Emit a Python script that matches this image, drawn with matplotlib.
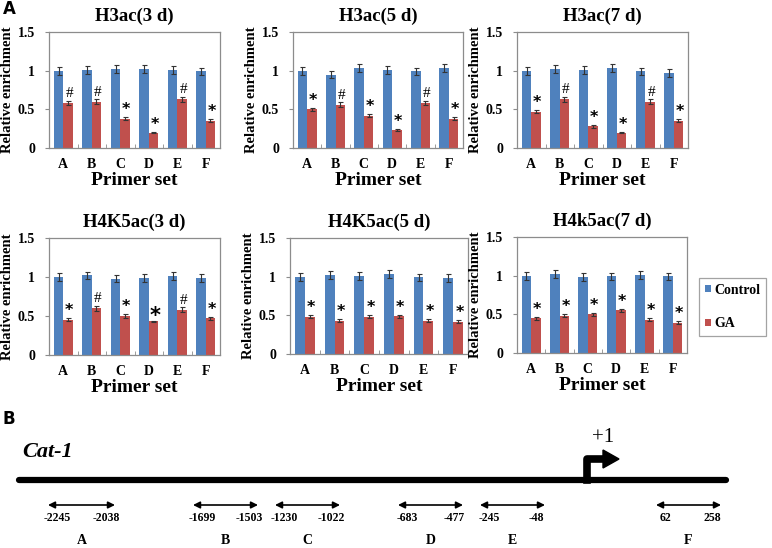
import numpy as np
import matplotlib
matplotlib.use('Agg')
import matplotlib.pyplot as plt
from matplotlib.patches import Patch, Polygon

primers = ['A', 'B', 'C', 'D', 'E', 'F']

titles = ['H3ac(3 d)', 'H3ac(5 d)', 'H3ac(7 d)',
          'H4K5ac(3 d)', 'H4K5ac(5 d)', 'H4k5ac(7 d)']

control = [
    [1.00, 1.01, 1.02, 1.02, 1.01, 0.99],
    [1.00, 0.95, 1.03, 1.01, 0.99, 1.03],
    [1.00, 1.02, 1.01, 1.03, 0.99, 0.97],
    [1.00, 1.02, 0.98, 0.99, 1.01, 0.99],
    [1.00, 1.02, 1.01, 1.03, 0.99, 0.98],
    [1.00, 1.02, 0.98, 0.99, 1.01, 0.99],
]
control_err = [
    [0.05, 0.05, 0.05, 0.05, 0.05, 0.05],
    [0.05, 0.05, 0.05, 0.05, 0.05, 0.05],
    [0.05, 0.05, 0.05, 0.05, 0.05, 0.05],
    [0.05, 0.05, 0.05, 0.05, 0.05, 0.05],
    [0.05, 0.05, 0.05, 0.05, 0.05, 0.05],
    [0.05, 0.05, 0.05, 0.05, 0.05, 0.05],
]
ga = [
    [0.58, 0.60, 0.38, 0.20, 0.63, 0.35],
    [0.50, 0.56, 0.42, 0.23, 0.58, 0.38],
    [0.47, 0.63, 0.28, 0.20, 0.60, 0.35],
    [0.45, 0.60, 0.50, 0.43, 0.58, 0.47],
    [0.48, 0.43, 0.48, 0.49, 0.43, 0.42],
    [0.45, 0.48, 0.50, 0.55, 0.43, 0.39],
]
ga_err = [
    [0.03, 0.03, 0.02, 0.01, 0.03, 0.02],
    [0.02, 0.03, 0.02, 0.01, 0.03, 0.02],
    [0.02, 0.03, 0.02, 0.01, 0.03, 0.02],
    [0.02, 0.03, 0.02, 0.01, 0.03, 0.02],
    [0.02, 0.02, 0.02, 0.02, 0.02, 0.02],
    [0.02, 0.02, 0.02, 0.02, 0.02, 0.02],
]
marks = [
    ['#', '#', '*', '*', '#', '*'],
    ['*', '#', '*', '*', '#', '*'],
    ['*', '#', '*', '*', '#', '*'],
    ['*', '#', '*', '*', '#', '*'],
    ['*', '*', '*', '*', '*', '*'],
    ['*', '*', '*', '*', '*', '*'],
]

# part B: primer pairs (bp relative to +1)
primer_start = [-2245, -1699, -1230, -683, -245, 62]
primer_end = [-2038, -1503, -1022, -477, -48, 258]

W, H = 772, 548
BLUE = '#4F81BD'
RED = '#C0504D'
GRAY = '#8c8c8c'
serif = 'Liberation Serif'

fig = plt.figure(figsize=(W / 100, H / 100), dpi=100)


def px_axes(x0, y0, x1, y1):
    return fig.add_axes([x0 / W, 1 - y1 / H, (x1 - x0) / W, (y1 - y0) / H])


boxes = [(49, 32, 220, 148), (293, 32, 463, 148), (517, 32, 688, 148),
         (49, 238, 220, 355), (290, 238, 468, 354), (517, 237, 687, 353)]

x = np.arange(len(primers))
bw = 0.33
ekw = dict(ecolor='#333333', elinewidth=0.8, capsize=1.8, capthick=0.8)
for k, box in enumerate(boxes):
    ax = px_axes(*box)
    ax.bar(x - bw / 2, control[k], bw, color=BLUE, yerr=control_err[k], error_kw=ekw)
    ax.bar(x + bw / 2, ga[k], bw, color=RED, yerr=ga_err[k], error_kw=ekw)
    for i in range(len(primers)):
        m = marks[k][i]
        top = ga[k][i] + ga_err[k][i]
        if m == '*':
            big = (k == 3 and i == 3)
            ax.text(x[i] + bw / 2 + 0.05, top - (0.07 if big else 0.0), m,
                    ha='center', va='bottom', fontsize=15 if big else 11.5,
                    fontweight='bold', family='DejaVu Sans')
        else:
            ax.text(x[i] + bw / 2 + 0.05, top + 0.01, m, ha='center', va='bottom',
                    fontsize=11, family=serif)
    ax.set_xlim(-0.5, 5.5)
    ax.set_ylim(0, 1.5)
    ax.set_yticks([0, 0.5, 1, 1.5])
    ax.set_yticklabels(['0', '0.5', '1', '1.5'])
    ax.set_xticks(x)
    ax.set_xticklabels(primers)
    ax.set_xticks(np.arange(0.5, 5.5, 1), minor=True)
    ax.tick_params(axis='x', which='major', length=0, pad=7)
    ax.tick_params(axis='x', which='minor', length=3, direction='in', color=GRAY)
    ax.tick_params(axis='y', length=3, color=GRAY, pad=7)
    for lab in ax.get_xticklabels() + ax.get_yticklabels():
        lab.set_fontfamily(serif)
        lab.set_fontweight('bold')
        lab.set_fontsize(10)
    for s in ax.spines.values():
        s.set_color(GRAY)
        s.set_linewidth(0.9)
    ax.set_title(titles[k], fontsize=13.5, fontweight='bold', family=serif, pad=8)
    ax.set_xlabel('Primer set', fontsize=14, fontweight='bold', family=serif, labelpad=1)
    ax.set_ylabel('Relative enrichment', fontsize=10.5, fontweight='bold', family=serif,
                  labelpad=3)

handles = [Patch(facecolor=BLUE, label='Control'), Patch(facecolor=RED, label='GA')]
leg = fig.legend(handles=handles, loc='upper left',
                 bbox_to_anchor=(699 / W, 1 - 278 / H), frameon=True, fancybox=False,
                 handlelength=0.45, handleheight=0.45, handletextpad=0.25,
                 labelspacing=1.5, borderpad=0.4, borderaxespad=0,
                 prop=dict(family=serif, weight='bold', size=10))
leg.get_frame().set_edgecolor(GRAY)
leg.get_frame().set_linewidth(0.9)

fig.text(3 / W, 1 - 14 / H, 'A', fontsize=12, fontweight='bold', family='DejaVu Sans')
fig.text(3 / W, 1 - 424 / H, 'B', fontsize=12, fontweight='bold', family='DejaVu Sans')

# part B schematic, drawn in pixel coordinates
axb = fig.add_axes([0, 0, 1, 1], zorder=-1)
axb.set_xlim(0, W)
axb.set_ylim(H, 0)
axb.axis('off')

axb.text(22, 452, 'Cat-1', fontsize=16, fontstyle='italic', fontweight='bold',
         family=serif, va='center')
axb.plot([19, 726], [480, 480], color='black', lw=4.5, solid_capstyle='round')

# transcription start site
axb.plot([587, 587, 606], [480, 459, 459], color='black', lw=5.5,
         solid_joinstyle='round')
axb.add_patch(Polygon([[603, 450], [603, 468], [619, 459]], closed=True,
                      color='black'))
axb.text(603, 438, '+1', fontsize=15, family=serif, ha='center', va='center')

arrow_x0 = [48, 193, 275, 398, 480, 656]
arrow_x1 = [115, 258, 340, 463, 545, 721]
for i in range(len(primers)):
    a, b = arrow_x0[i], arrow_x1[i]
    axb.annotate('', xy=(b, 505), xytext=(a, 505),
                 arrowprops=dict(arrowstyle='<|-|>', color='black', lw=1.2,
                                 mutation_scale=10, shrinkA=0, shrinkB=0))
    axb.text(a + 9, 518, str(primer_start[i]), fontsize=8.5, fontweight='bold',
             family=serif, ha='center', va='center')
    axb.text(b - 9, 518, str(primer_end[i]), fontsize=8.5, fontweight='bold',
             family=serif, ha='center', va='center')
    axb.text((a + b) / 2, 540, primers[i], fontsize=10, fontweight='bold',
             family=serif, ha='center', va='center')

fig.savefig('out.png', dpi=100)
